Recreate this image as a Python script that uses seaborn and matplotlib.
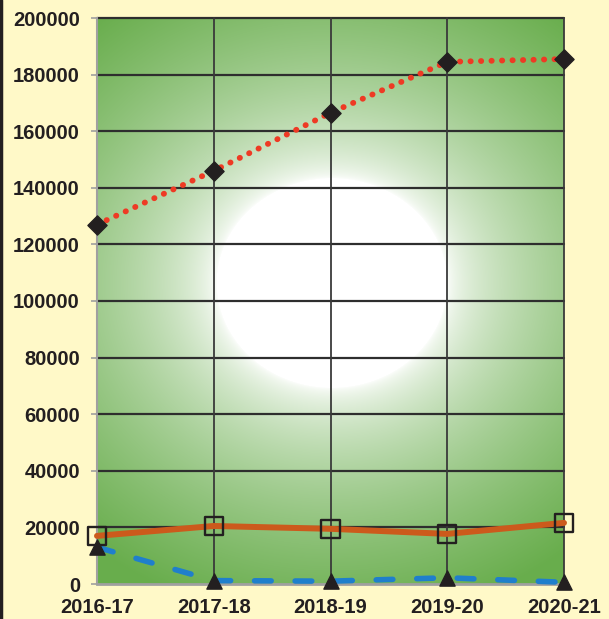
import numpy as np
import pandas as pd
import matplotlib
matplotlib.use("Agg")
import matplotlib.pyplot as plt
import seaborn as sns
from matplotlib.lines import Line2D

categories = ["2016-17", "2017-18", "2018-19", "2019-20", "2020-21"]
series_red = [127000, 146000, 166500, 184500, 185500]
series_orange = [17000, 20500, 19500, 17700, 21600]
series_blue = [13000, 1200, 1000, 2200, 600]
y_ticks = [0, 20000, 40000, 60000, 80000, 100000, 120000, 140000, 160000, 180000, 200000]

sns.set_style("white")
plt.rcParams["font.family"] = ["Liberation Sans", "DejaVu Sans"]

W, H = 609, 619
L, R, T, B = 97, 564, 18, 584
fig = plt.figure(figsize=(W/100, H/100), dpi=100, facecolor="#FFF9C8")
ax = fig.add_axes([L/W, 1-B/H, (R-L)/W, (B-T)/H])

x = np.arange(len(categories))
df = pd.DataFrame({"x": np.tile(x, 3),
                   "y": series_red + series_orange + series_blue,
                   "s": ["red"]*5 + ["orange"]*5 + ["blue"]*5})

# radial gradient background (pixel space)
aw, ah = R-L, B-T
px, py = np.meshgrid(np.arange(aw)+0.5, np.arange(ah)+0.5)
cx, cy = 235, 265
r = np.sqrt((px-cx)**2 + ((py-cy)*1.1)**2)
r0, r1 = 115, 375
t = np.clip((r - r0)/(r1 - r0), 0, 1) ** 0.6
white = np.array([1.0, 1.0, 1.0])
green = np.array([0.41, 0.68, 0.30])
img = white[None, None, :]*(1-t[..., None]) + green[None, None, :]*t[..., None]
ax.imshow(img, extent=[0, 4, 0, 200000], aspect="auto", zorder=0, origin="upper",
          interpolation="bilinear")

ax.set_xlim(0, 4)
ax.set_ylim(0, 200000)

for yv in y_ticks[1:]:
    ax.axhline(yv, color="#2E2E2E", lw=1.6, zorder=1)
for xv in x[1:]:
    ax.axvline(xv, color="#3A3A3A", lw=1.3, zorder=1)

sns.lineplot(data=df[df.s == "red"], x="x", y="y", ax=ax, color="#EE3A24",
             lw=4.2, linestyle=(0, (0.05, 1.75)),
             dash_capstyle="round", zorder=3, legend=False)
sns.lineplot(data=df[df.s == "orange"], x="x", y="y", ax=ax, color="#CC5A1C",
             lw=4.3, zorder=3, legend=False)
sns.lineplot(data=df[df.s == "blue"], x="x", y="y", ax=ax, color="#1F7FCC",
             lw=4.0, linestyle=(0, (3.0, 4.3)), dash_capstyle="round", zorder=3, legend=False)

sns.scatterplot(x=x, y=series_red, ax=ax, marker="D", s=95, color="#231F20",
                edgecolor="#231F20", linewidth=1, zorder=5, legend=False)
sns.scatterplot(x=x, y=series_orange, ax=ax, marker="s", s=175, facecolor="none",
                edgecolor="#231F20", linewidth=1.7, zorder=5, legend=False)
sns.scatterplot(x=x, y=series_blue, ax=ax, marker="^", s=120, color="#231F20",
                edgecolor="#231F20", linewidth=1, zorder=5, legend=False)

ax.set_xticks(x)
ax.set_xticklabels(categories)
ax.set_yticks(y_ticks)
ax.set_yticklabels([str(v) for v in y_ticks])
for lab in ax.get_xticklabels() + ax.get_yticklabels():
    lab.set_fontweight("bold")
    lab.set_fontsize(14.5)
    lab.set_color("#231F20")
ax.tick_params(axis="y", length=4.3, width=1.2, color="#A0A0A0", pad=8, left=True)
ax.tick_params(axis="x", length=0, pad=10)
ax.set_xlabel("")
ax.set_ylabel("")

for side in ["top", "right"]:
    ax.spines[side].set_visible(False)
ax.spines["left"].set_color("#A0A0A0")
ax.spines["left"].set_linewidth(1.5)
ax.spines["bottom"].set_color("#A0A0A0")
ax.spines["bottom"].set_linewidth(2)
for coll in ax.collections:
    coll.set_clip_on(False)
for ln in ax.lines:
    ln.set_clip_on(False)

fig.add_artist(Line2D([1/W, 1/W], [0, 1], color="#231F20", lw=2.5, transform=fig.transFigure))

fig.savefig("out.png", dpi=100, facecolor=fig.get_facecolor())
